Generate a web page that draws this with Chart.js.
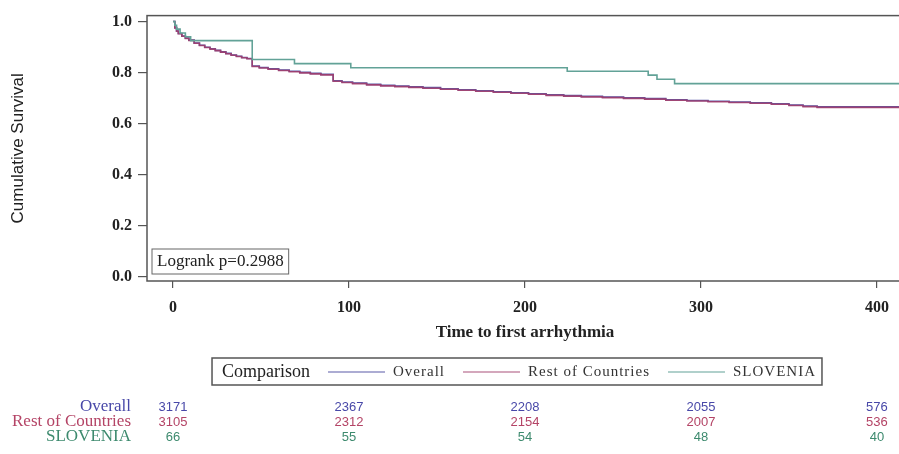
<!DOCTYPE html>
<html>
<head>
<meta charset="utf-8">
<script src="https://cdn.jsdelivr.net/npm/chart.js@4.4.1/dist/chart.umd.min.js"></script>
<style>
  html, body { margin: 0; padding: 0; background: #fff; overflow: hidden; }
  #wrap { width: 910px; height: 454px; position: relative; }
</style>
</head>
<body>
<div id="wrap"><canvas id="kmChart"></canvas></div>
<script>
// Axis ticks
const xTicks = [0, 100, 200, 300, 400];
const yTicks = [0, 0.2, 0.4, 0.6, 0.8, 1.0];

// Kaplan-Meier curves (time, survival)
const kmTimes = [0, 1, 2, 3, 5, 7, 9, 12, 15, 18, 21, 24, 27, 30, 33, 36, 39, 42, 45, 49, 54, 60, 66, 72, 78, 84, 91, 96, 102, 110, 118, 126, 134, 142, 152, 162, 172, 182, 192, 202, 212, 222, 232, 244, 256, 268, 280, 292, 304, 316, 328, 340, 350, 358, 366, 415];
const overallSurv = [1.0, 0.976, 0.963, 0.953, 0.943, 0.935, 0.927, 0.916, 0.907, 0.899, 0.893, 0.887, 0.881, 0.875, 0.869, 0.864, 0.859, 0.855, 0.826, 0.820, 0.815, 0.810, 0.805, 0.801, 0.797, 0.793, 0.768, 0.763, 0.759, 0.754, 0.750, 0.747, 0.744, 0.741, 0.737, 0.733, 0.729, 0.725, 0.721, 0.717, 0.713, 0.710, 0.707, 0.704, 0.701, 0.698, 0.694, 0.691, 0.688, 0.685, 0.682, 0.678, 0.673, 0.669, 0.666, 0.666];
const restSurv = [1.0, 0.975, 0.962, 0.952, 0.942, 0.934, 0.926, 0.915, 0.906, 0.898, 0.892, 0.886, 0.880, 0.874, 0.868, 0.863, 0.858, 0.854, 0.824, 0.818, 0.813, 0.808, 0.803, 0.799, 0.795, 0.791, 0.766, 0.761, 0.757, 0.752, 0.748, 0.745, 0.742, 0.739, 0.735, 0.731, 0.727, 0.723, 0.719, 0.715, 0.711, 0.708, 0.705, 0.702, 0.699, 0.696, 0.692, 0.689, 0.686, 0.683, 0.680, 0.676, 0.671, 0.667, 0.664, 0.664];

const sloTimes = [0, 1, 2, 4, 7, 10, 45, 69, 101, 224, 270, 275, 285, 415];
const sloSurv  = [1.0, 0.985, 0.970, 0.955, 0.940, 0.925, 0.851, 0.835, 0.819, 0.805, 0.790, 0.774, 0.757, 0.757];

// Number at risk table
const riskTimes = [0, 100, 200, 300, 400];
const riskOverall = [3171, 2367, 2208, 2055, 576];
const riskRest = [3105, 2312, 2154, 2007, 536];
const riskSlovenia = [66, 55, 54, 48, 40];

const groupNames = ['Overall', 'Rest of Countries', 'SLOVENIA'];
const lineColors = ['#5a5aa8', 'rgba(160, 60, 108, 0.9)', '#62a297'];
const textColors = ['#4848a8', '#b44466', '#3d8a6e'];
const logrankText = 'Logrank p=0.2988';

const toPoints = (times, surv) => times.map((t, i) => ({ x: t, y: surv[i] }));

// Draws the plot frame, the logrank box, the legend and the at-risk table
const extrasPlugin = {
    id: 'extras',
    afterDraw(chart) {
        const { ctx, chartArea, scales } = chart;
        const x = scales.x;
        ctx.save();

        // frame around the plot area
        ctx.strokeStyle = '#555';
        ctx.lineWidth = 1.5;
        ctx.strokeRect(chartArea.left, chartArea.top, chartArea.right - chartArea.left, chartArea.bottom - chartArea.top);

        // logrank box
        ctx.font = '17px "Liberation Serif"';
        ctx.fillStyle = '#222';
        ctx.textBaseline = 'middle';
        ctx.textAlign = 'left';
        const lw = ctx.measureText(logrankText).width;
        const bx = chartArea.left + 5, by = chartArea.bottom - 32;
        ctx.lineWidth = 1;
        ctx.strokeStyle = '#666';
        ctx.strokeRect(bx, by, lw + 10, 25);
        ctx.fillText(logrankText, bx + 5, by + 13);

        // legend box
        const legY = 372;
        ctx.font = '18px "Liberation Serif"';
        const titleW = ctx.measureText('Comparison').width;
        ctx.font = '15px "Liberation Serif"';
        ctx.letterSpacing = '1px';
        const labelW = groupNames.map(n => ctx.measureText(n).width);
        const lineLen = 57;
        let total = 10 + titleW;
        labelW.forEach(w => { total += 18 + lineLen + 8 + w; });
        total += 6;
        const legLeft = (chartArea.left + chartArea.right) / 2 - 8 - total / 2;
        ctx.strokeStyle = '#555';
        ctx.lineWidth = 1.5;
        ctx.strokeRect(legLeft, legY - 14, total, 27);
        ctx.fillStyle = '#222';
        ctx.letterSpacing = '0px';
        ctx.font = '18px "Liberation Serif"';
        let cx = legLeft + 10;
        ctx.fillText('Comparison', cx, legY);
        cx += titleW;
        ctx.font = '15px "Liberation Serif"';
        ctx.letterSpacing = '1px';
        groupNames.forEach((n, i) => {
            cx += 18;
            ctx.strokeStyle = lineColors[i];
            ctx.lineWidth = 1.2;
            ctx.beginPath();
            ctx.moveTo(cx, legY);
            ctx.lineTo(cx + lineLen, legY);
            ctx.stroke();
            cx += lineLen + 8;
            ctx.fillStyle = '#333';
            ctx.fillText(n, cx, legY);
            cx += labelW[i];
        });
        ctx.letterSpacing = '0px';

        // number at risk rows
        const rows = [riskOverall, riskRest, riskSlovenia];
        rows.forEach((vals, r) => {
            const ry = 407 + r * 15;
            ctx.fillStyle = textColors[r];
            ctx.font = '17px "Liberation Serif"';
            ctx.textAlign = 'right';
            ctx.fillText(groupNames[r], 131, ry);
            ctx.font = '13px "Liberation Sans"';
            ctx.textAlign = 'center';
            vals.forEach((v, i) => {
                ctx.fillText(String(v), x.getPixelForValue(riskTimes[i]), ry);
            });
        });
        ctx.restore();
    }
};

const ctx = document.getElementById('kmChart').getContext('2d');
new Chart(ctx, {
    type: 'line',
    data: {
        datasets: [
            {
                label: groupNames[0],
                data: toPoints(kmTimes, overallSurv),
                borderColor: lineColors[0],
                borderWidth: 1.6,
                stepped: 'before',
                pointRadius: 0,
                fill: false,
                order: 3
            },
            {
                label: groupNames[1],
                data: toPoints(kmTimes, restSurv),
                borderColor: lineColors[1],
                borderWidth: 1.6,
                stepped: 'before',
                pointRadius: 0,
                fill: false,
                order: 2
            },
            {
                label: groupNames[2],
                data: toPoints(sloTimes, sloSurv),
                borderColor: lineColors[2],
                borderWidth: 1.6,
                stepped: 'before',
                pointRadius: 0,
                fill: false,
                order: 1
            }
        ]
    },
    options: {
        responsive: true,
        maintainAspectRatio: false,
        animation: false,
        layout: { padding: { top: 13, left: 0, right: 7, bottom: 108 } },
        plugins: {
            legend: { display: false },
            tooltip: { enabled: false }
        },
        scales: {
            x: {
                type: 'linear',
                min: -14.8,
                max: 414.8,
                afterBuildTicks: (scale) => { scale.ticks = xTicks.map(v => ({ value: v })); },
                afterFit: (scale) => { scale.height = 65; },
                border: { display: false },
                grid: { drawOnChartArea: false, drawTicks: true, tickLength: 7, color: '#555', lineWidth: 1.2 },
                ticks: {
                    color: '#222',
                    padding: 10,
                    font: { family: 'Liberation Serif', size: 16, weight: 'bold' }
                },
                title: {
                    display: true,
                    text: 'Time to first arrhythmia',
                    color: '#222',
                    padding: { top: 0, bottom: 3 },
                    font: { family: 'Liberation Serif', size: 17, weight: 'bold' }
                }
            },
            y: {
                min: -0.0155,
                max: 1.023,
                afterBuildTicks: (scale) => { scale.ticks = yTicks.map(v => ({ value: v })); },
                afterFit: (scale) => { scale.width = 147; },
                border: { display: false },
                grid: { drawOnChartArea: false, drawTicks: true, tickLength: 9, color: '#555', lineWidth: 1.2 },
                ticks: {
                    color: '#222',
                    padding: 6,
                    callback: (v) => Number(v).toFixed(1),
                    font: { family: 'Liberation Serif', size: 16, weight: 'bold' }
                },
                title: {
                    display: true,
                    text: 'Cumulative Survival',
                    color: '#222',
                    padding: { top: 8, bottom: 0 },
                    font: { family: 'Liberation Sans', size: 17 }
                }
            }
        }
    },
    plugins: [extrasPlugin]
});
</script>
</body>
</html>
